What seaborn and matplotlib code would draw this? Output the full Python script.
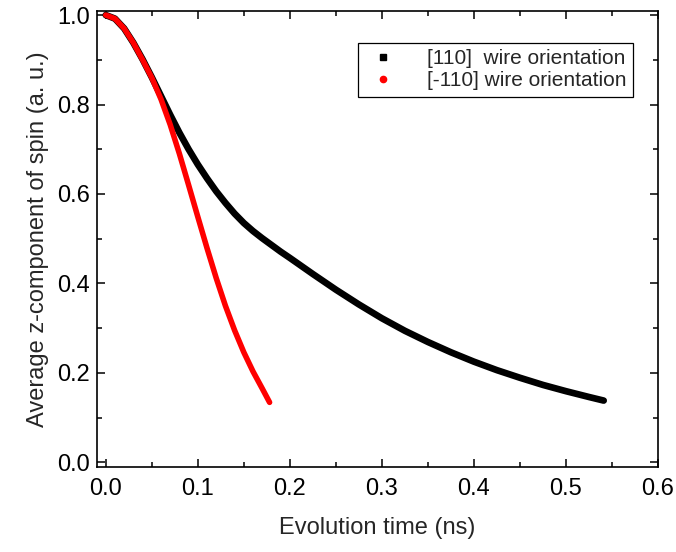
import matplotlib
matplotlib.use("Agg")
import matplotlib.pyplot as plt
from matplotlib.lines import Line2D
from matplotlib.ticker import MultipleLocator
import seaborn as sns
import pandas as pd

# [110] wire orientation
time_110 = [0.000, 0.010, 0.020, 0.030, 0.040, 0.050, 0.060, 0.070, 0.080, 0.090,
            0.100, 0.110, 0.120, 0.130, 0.140, 0.150, 0.160, 0.170, 0.180, 0.190,
            0.200, 0.225, 0.250, 0.275, 0.300, 0.325, 0.350, 0.375, 0.400, 0.425,
            0.450, 0.475, 0.500, 0.525, 0.541]
spin_110 = [1.000, 0.992, 0.970, 0.938, 0.901, 0.861, 0.819, 0.777, 0.737, 0.700,
            0.666, 0.635, 0.606, 0.580, 0.556, 0.535, 0.517, 0.501, 0.486, 0.471,
            0.457, 0.421, 0.386, 0.353, 0.322, 0.294, 0.269, 0.246, 0.225, 0.206,
            0.189, 0.173, 0.159, 0.146, 0.138]

# [-110] wire orientation
time_m110 = [0.000, 0.010, 0.020, 0.030, 0.040, 0.050, 0.060, 0.070, 0.080, 0.090,
             0.100, 0.110, 0.120, 0.130, 0.140, 0.150, 0.160, 0.170, 0.178]
spin_m110 = [1.000, 0.992, 0.970, 0.938, 0.900, 0.860, 0.812, 0.755, 0.690, 0.620,
             0.549, 0.479, 0.412, 0.350, 0.295, 0.246, 0.203, 0.165, 0.134]

labels = ["[110]  wire orientation", "[-110] wire orientation"]
colors = ["#000000", "#ff0000"]

df = pd.concat([
    pd.DataFrame({"t": time_110, "s": spin_110, "o": labels[0]}),
    pd.DataFrame({"t": time_m110, "s": spin_m110, "o": labels[1]}),
])

sns.set_style("ticks")
plt.rcParams["font.family"] = ["Liberation Sans", "DejaVu Sans"]

fig = plt.figure(figsize=(6.76, 5.52), dpi=100)
ax = fig.add_axes([0.1435, 0.154, 0.8299, 0.826])

sns.lineplot(data=df, x="t", y="s", hue="o", palette=dict(zip(labels, colors)),
             linewidth=4.5, sort=False, estimator=None, legend=False, ax=ax,
             solid_capstyle="round", solid_joinstyle="round")
lines = ax.get_lines()
if len(lines) >= 2:
    lines[0].set_linewidth(4.8)
    lines[1].set_linewidth(4.0)
    lines[1].set_zorder(3)

ax.set_xlim(-0.0095, 0.6)
ax.set_ylim(-0.0105, 1.009)
ax.xaxis.set_major_locator(MultipleLocator(0.1))
ax.xaxis.set_minor_locator(MultipleLocator(0.05))
ax.yaxis.set_major_locator(MultipleLocator(0.2))
ax.yaxis.set_minor_locator(MultipleLocator(0.1))
ax.xaxis.set_major_formatter(plt.FuncFormatter(lambda v, p: f"{v:.1f}"))
ax.yaxis.set_major_formatter(plt.FuncFormatter(lambda v, p: f"{v:.1f}"))

ax.tick_params(which="both", direction="in", top=True, right=True,
               width=1.1, colors="black", labelsize=17)
ax.tick_params(which="major", length=6)
ax.tick_params(which="minor", length=3.5)
ax.tick_params(axis="x", which="major", pad=8)
ax.tick_params(axis="y", which="major", pad=5)
for sp in ax.spines.values():
    sp.set_visible(True)
    sp.set_linewidth(1.2)
    sp.set_color("black")

ax.set_xlabel("Evolution time (ns)", fontsize=17, labelpad=12)
ax.set_ylabel("Average z-component of spin (a. u.)", fontsize=17, labelpad=6)

handles = [
    Line2D([], [], linestyle="none", marker="s", color=colors[0], markersize=4.5),
    Line2D([], [], linestyle="none", marker="o", color=colors[1], markersize=4.5),
]
leg = ax.legend(handles, labels, loc="upper right", bbox_to_anchor=(0.955, 0.93),
                borderaxespad=0, fontsize=15, frameon=True, fancybox=False,
                edgecolor="black", framealpha=1, handlelength=1.8,
                handletextpad=1.2, borderpad=0.3, labelspacing=0.15)
leg.get_frame().set_linewidth(0.9)

fig.savefig("out.png", dpi=100)
